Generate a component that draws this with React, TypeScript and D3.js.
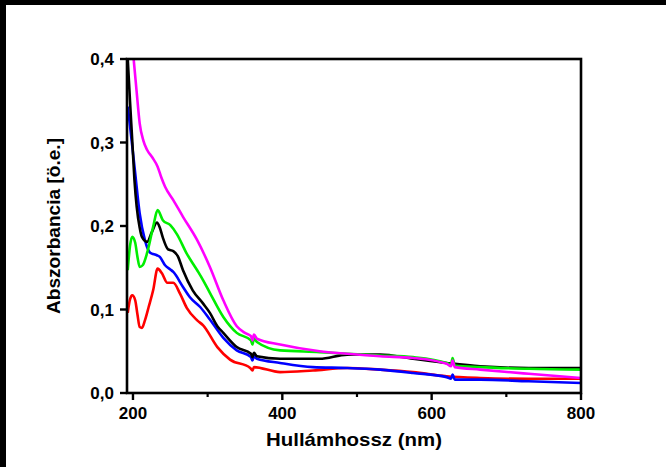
import React from 'react';
import * as d3 from 'd3';

// spectra: [wavelength nm, absorbance]
const magenta: [number, number][] = [
  [201, 0.399], [205, 0.36], [209, 0.323], [214, 0.302], [219, 0.291], [226, 0.282], [233, 0.271],
  [238, 0.258], [243, 0.247], [254, 0.231], [267, 0.211], [286, 0.183], [303, 0.151], [321, 0.111],
  [339, 0.08], [350, 0.072], [358, 0.068], [360, 0.063], [362, 0.07], [366, 0.065], [397, 0.058],
  [450, 0.05], [487, 0.047], [531, 0.044], [575, 0.042], [620, 0.035], [626, 0.032], [628, 0.039],
  [631, 0.031], [665, 0.028], [730, 0.023], [800, 0.018],
];
const black: [number, number][] = [
  [193, 0.4], [196, 0.35], [199, 0.303], [202, 0.255], [205, 0.223], [209, 0.198], [212, 0.187],
  [219, 0.181], [225, 0.192], [232, 0.204], [236, 0.198], [240, 0.186], [247, 0.172], [254, 0.17],
  [260, 0.164], [267, 0.147], [280, 0.123], [294, 0.107], [303, 0.096], [313, 0.08], [321, 0.072],
  [339, 0.055], [358, 0.047], [360, 0.043], [362, 0.048], [366, 0.044], [397, 0.041], [450, 0.041],
  [487, 0.046], [531, 0.046], [575, 0.041], [620, 0.036], [665, 0.032], [730, 0.03], [800, 0.03],
];
const green: [number, number][] = [
  [193, 0.147], [196, 0.176], [199, 0.187], [203, 0.18], [206, 0.163], [209, 0.151], [213, 0.153],
  [219, 0.168], [227, 0.199], [233, 0.219], [240, 0.207], [250, 0.201], [259, 0.19], [272, 0.167],
  [286, 0.147], [294, 0.135], [303, 0.12], [321, 0.091], [339, 0.072], [358, 0.063], [360, 0.058],
  [362, 0.066], [366, 0.061], [397, 0.051], [450, 0.049], [487, 0.047], [531, 0.045], [575, 0.043],
  [620, 0.036], [626, 0.034], [628, 0.042], [631, 0.033], [665, 0.031], [730, 0.029], [800, 0.028],
];
const blue: [number, number][] = [
  [193, 0.343], [196, 0.32], [199, 0.296], [203, 0.263], [209, 0.215], [216, 0.183], [223, 0.168],
  [232, 0.165], [236, 0.163], [243, 0.153], [250, 0.148], [254, 0.145], [267, 0.127], [276, 0.115],
  [290, 0.103], [303, 0.088], [321, 0.066], [339, 0.051], [358, 0.043], [360, 0.039], [362, 0.044],
  [366, 0.041], [397, 0.036], [441, 0.031], [487, 0.03], [531, 0.028], [575, 0.024], [620, 0.019],
  [626, 0.017], [628, 0.022], [631, 0.016], [665, 0.016], [730, 0.014], [800, 0.012],
];
const red: [number, number][] = [
  [193, 0.096], [196, 0.112], [199, 0.117], [203, 0.111], [206, 0.094], [209, 0.079], [212, 0.078],
  [216, 0.087], [221, 0.103], [227, 0.123], [233, 0.149], [239, 0.143], [246, 0.132], [254, 0.132],
  [263, 0.119], [272, 0.102], [286, 0.087], [294, 0.081], [313, 0.055], [330, 0.04], [357, 0.03],
  [360, 0.027], [362, 0.031], [397, 0.025], [441, 0.027], [487, 0.03], [531, 0.028], [575, 0.025],
  [620, 0.02], [665, 0.018], [730, 0.017], [800, 0.017],
];

const series = [
  { name: 'red', color: '#ff0000', data: red },
  { name: 'blue', color: '#0000ff', data: blue },
  { name: 'black', color: '#000000', data: black },
  { name: 'green', color: '#00ee00', data: green },
  { name: 'magenta', color: '#ff00ff', data: magenta },
];

const xTicks = [200, 400, 600, 800];
const xMinorTicks = [300, 500, 700];
const yTicks = [0, 0.1, 0.2, 0.3, 0.4];

const W = 666;
const H = 467;
const left = 127, right = 581, top = 59, bottom = 393;
const font = '"Liberation Sans", Arial, sans-serif';

export default function App() {
  const x = d3.scaleLinear().domain([192, 800]).range([left, right]);
  const y = d3.scaleLinear().domain([0, 0.4]).range([bottom, top]);
  const line = d3.line<[number, number]>()
    .x(d => x(d[0]))
    .y(d => y(d[1]))
    .curve(d3.curveMonotoneX);
  const fmt = (v: number) => v.toFixed(1).replace('.', ',');

  return (
    <svg width={W} height={H} style={{ position: 'absolute', left: 0, top: 0, background: '#fff' }}>
      {/* black strips of the screenshot edge */}
      <rect x={0} y={0} width={W} height={5} fill="#000" />
      <rect x={0} y={0} width={6} height={H} fill="#000" />

      {series.map(s => (
        <path key={s.name} d={line(s.data) || ''} fill="none" stroke={s.color}
          strokeWidth={2.6} strokeLinejoin="round" />
      ))}

      {/* frame */}
      <rect x={left} y={top} width={right - left} height={bottom - top}
        fill="none" stroke="#000" strokeWidth={2.6} />

      {yTicks.map(t => (
        <g key={'y' + t}>
          <line x1={left - 7} x2={left} y1={y(t)} y2={y(t)} stroke="#000" strokeWidth={2.4} />
          <text x={left - 13} y={y(t)} dy="0.36em" textAnchor="end" fontFamily={font}
            fontWeight="bold" fontSize={17}>{fmt(t)}</text>
        </g>
      ))}
      {xTicks.map(t => (
        <g key={'x' + t}>
          <line x1={x(t)} x2={x(t)} y1={bottom} y2={bottom + 7} stroke="#000" strokeWidth={2.4} />
          <text x={x(t)} y={bottom + 26} textAnchor="middle" fontFamily={font}
            fontWeight="bold" fontSize={17}>{t}</text>
        </g>
      ))}
      {xMinorTicks.map(t => (
        <line key={'m' + t} x1={x(t)} x2={x(t)} y1={bottom} y2={bottom + 4}
          stroke="#000" strokeWidth={2.2} />
      ))}

      <text x={(left + right) / 2} y={446} textAnchor="middle" fontFamily={font}
        fontWeight="bold" fontSize={18.5} textLength={176} lengthAdjust="spacingAndGlyphs">Hullámhossz (nm)</text>
      <text transform={`translate(60, ${(top + bottom) / 2}) rotate(-90)`} textAnchor="middle"
        fontFamily={font} fontWeight="bold" fontSize={18.5} textLength={176}
        lengthAdjust="spacingAndGlyphs">Abszorbancia [ö.e.]</text>
    </svg>
  );
}
